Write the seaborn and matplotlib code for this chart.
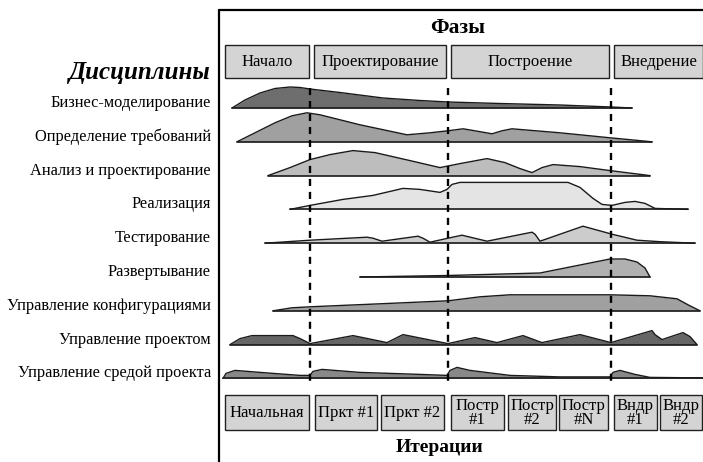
import matplotlib
matplotlib.use("Agg")
import matplotlib.pyplot as plt
import seaborn as sns
from matplotlib.patches import Rectangle

sns.set_theme(style="white")
plt.rcParams['font.family'] = ['Liberation Serif', 'DejaVu Serif']
plt.rcParams['text.color'] = 'black'

# дисциплины (подписи слева)
disciplines = ["Бизнес-моделирование", "Определение требований", "Анализ и проектирование",
               "Реализация", "Тестирование", "Развертывание", "Управление конфигурациями",
               "Управление проектом", "Управление средой проекта"]
fills = ["#6e6e6e", "#a0a0a0", "#bdbdbd", "#e4e4e4", "#cccccc", "#b0b0b0", "#a0a0a0",
         "#666666", "#888888"]

# профили "горбов": положение по времени и высота
biz_x = [232, 245, 260, 275, 290, 300, 310, 340, 383, 420, 448, 500, 560, 611, 632]
biz_h = [0, 8, 15, 19.5, 21, 20.5, 19, 15.5, 10, 7.5, 6, 4.5, 3, 1, 0]
req_x = [237, 255, 275, 292, 307, 320, 360, 407, 430, 448, 463, 475, 492, 502, 512, 560, 610, 652]
req_h = [0, 9, 19, 26, 29, 27, 17, 7, 9, 11, 13, 11, 8, 11, 13, 9, 4, 0]
ana_x = [268, 290, 310, 330, 353, 375, 410, 440, 460, 487, 505, 520, 532, 542, 553, 580, 610, 650]
ana_h = [0, 8, 16, 21, 25, 23, 15, 8, 12, 17, 13, 7, 3, 8, 11, 9, 5, 0]
impl_x = [290, 310, 343, 373, 403, 420, 440, 447, 452, 460, 568, 580, 593, 602, 612, 625, 635,
          645, 655, 688]
impl_h = [0, 4, 10, 14, 21, 20, 17, 20, 25, 27, 27, 22, 11, 5, 4, 7, 8, 6, 1, 0]
test_x = [265, 310, 367, 373, 382, 418, 423, 430, 448, 462, 487, 532, 535, 540, 583, 612, 637,
          660, 695]
test_h = [0, 3, 6, 5, 2, 7, 5, 1, 5, 8, 2, 11, 9, 2, 17, 9, 3, 1.5, 0]
depl_x = [360, 448, 540, 575, 610, 625, 637, 645, 650]
depl_h = [0, 1.5, 4, 11, 18, 18, 15, 9, 0]
conf_x = [273, 292, 310, 380, 448, 480, 510, 610, 650, 677, 688, 700]
conf_h = [0, 3, 4, 7, 10, 14, 16, 16, 15, 12, 6, 0]
proj_x = [230, 240, 252, 293, 300, 310, 353, 387, 403, 448, 475, 497, 523, 542, 580, 611, 652,
          655, 662, 683, 690, 697]
proj_h = [0, 6, 9, 9, 6, 1, 9, 2, 10, 1, 7, 2, 9, 2, 10, 2, 14, 10, 5, 12, 8, 0]
env_x = [223, 226, 235, 260, 300, 310, 313, 322, 360, 420, 447, 450, 457, 470, 510, 560, 610,
         613, 620, 635, 650, 703]
env_h = [0, 5, 8, 6, 3, 3, 7, 9, 6, 4, 3, 8, 11, 8, 3, 1.5, 1.5, 6, 8, 4, 1, 0.5]

humps = [(biz_x, biz_h), (req_x, req_h), (ana_x, ana_h), (impl_x, impl_h), (test_x, test_h),
         (depl_x, depl_h), (conf_x, conf_h), (proj_x, proj_h), (env_x, env_h)]

phases = ["Начало", "Проектирование", "Построение", "Внедрение"]
phase_span = [(225, 309), (314, 446), (451, 609), (614, 703)]
iterations = ["Начальная", "Пркт #1", "Пркт #2", "Постр\n#1", "Постр\n#2", "Постр\n#N",
              "Вндр\n#1", "Вндр\n#2"]
iter_span = [(225, 309), (315, 377), (381, 444), (451, 504), (508, 556), (559, 608),
             (614, 657), (660, 702)]
boundaries = [310, 448, 611]

fig = plt.figure(figsize=(7.03, 4.62), dpi=100)
ax = fig.add_axes([0, 0, 1, 1])
ax.set_xlim(0, 703)
ax.set_ylim(462, 0)
ax.axis("off")

# рамка
ax.plot([219, 219], [10, 462], color="black", lw=1.6)
ax.plot([219, 703], [10, 10], color="black", lw=1.6)

ax.text(458, 28, "Фазы", ha="center", va="center", fontsize=15.5, fontweight="bold")
ax.text(211, 72, "Дисциплины", ha="right", va="center", fontsize=18,
        fontweight="bold", fontstyle="italic")
ax.text(440, 447, "Итерации", ha="center", va="center", fontsize=14, fontweight="bold")

for name, (x0, x1) in zip(phases, phase_span):
    ax.add_patch(Rectangle((x0, 45), x1 - x0, 33, facecolor="#d4d4d4", edgecolor="#222222", lw=1))
    ax.text((x0 + x1) / 2, 62, name, ha="center", va="center", fontsize=12)

for name, (x0, x1) in zip(iterations, iter_span):
    ax.add_patch(Rectangle((x0, 395), x1 - x0, 35, facecolor="#d4d4d4", edgecolor="#222222", lw=1))
    ax.text((x0 + x1) / 2, 413, name, ha="center", va="center", fontsize=12, linespacing=0.8)

for i, (name, (xs, hs), fc) in enumerate(zip(disciplines, humps, fills)):
    base = 108 + i * 33.8
    ys = [base - h for h in hs]
    ax.fill_between(xs, base, ys, color=fc, lw=0)
    sns.lineplot(x=xs, y=ys, ax=ax, color="#1a1a1a", lw=1.0, sort=False, estimator=None)
    ax.plot([xs[0], xs[-1]], [base, base], color="#1a1a1a", lw=1.2)
    ax.text(211, base - 5, name, ha="right", va="center", fontsize=11.8)

for bx in boundaries:
    ax.plot([bx, bx], [88, 386], color="black", lw=1.7, ls=(0, (3, 2.5)))

fig.savefig("out.png", dpi=100)
